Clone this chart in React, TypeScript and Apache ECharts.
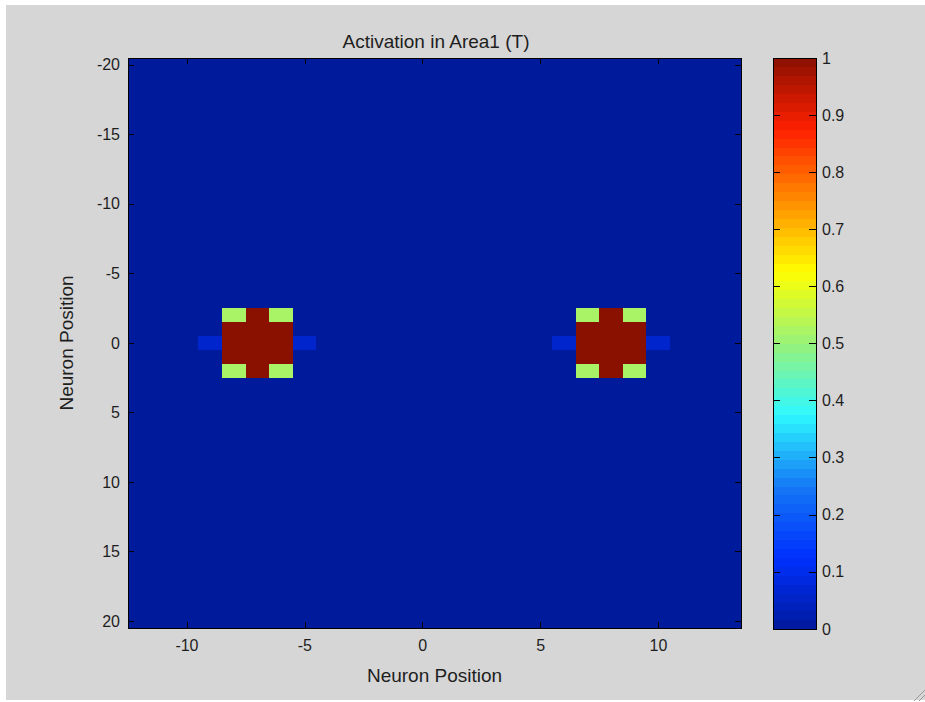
import React, { useEffect, useRef } from "react";
import * as echarts from "echarts";

// Neuron positions (heatmap columns / rows)
const xPositions = [-12, -11, -10, -9, -8, -7, -6, -5, -4, -3, -2, -1, 0, 1, 2, 3, 4, 5, 6, 7, 8, 9, 10, 11, 12, 13];
const yPositions = [-20, -19, -18, -17, -16, -15, -14, -13, -12, -11, -10, -9, -8, -7, -6, -5, -4, -3, -2, -1, 0, 1, 2, 3, 4, 5, 6, 7, 8, 9, 10, 11, 12, 13, 14, 15, 16, 17, 18, 19, 20];

// Non-zero activations: [x, y, activation]
const leftBlob: [number, number, number][] = [
  [-9, 0, 0.06], [-5, 0, 0.06],
  [-8, -2, 0.52], [-7, -2, 1], [-6, -2, 0.52],
  [-8, -1, 1], [-7, -1, 1], [-6, -1, 1],
  [-8, 0, 1], [-7, 0, 1], [-6, 0, 1],
  [-8, 1, 1], [-7, 1, 1], [-6, 1, 1],
  [-8, 2, 0.52], [-7, 2, 1], [-6, 2, 0.52],
];
const rightBlob: [number, number, number][] = [
  [6, 0, 0.06], [10, 0, 0.06],
  [7, -2, 0.52], [8, -2, 1], [9, -2, 0.52],
  [7, -1, 1], [8, -1, 1], [9, -1, 1],
  [7, 0, 1], [8, 0, 1], [9, 0, 1],
  [7, 1, 1], [8, 1, 1], [9, 1, 1],
  [7, 2, 0.52], [8, 2, 1], [9, 2, 0.52],
];
const backgroundActivation = 0;

// Colour bar ticks
const colorbarTicks = [0, 0.1, 0.2, 0.3, 0.4, 0.5, 0.6, 0.7, 0.8, 0.9, 1];
const colormapSteps = 64;

// jet-like colormap, evenly spaced stops 0 .. 1
const jetColors = [
  "#001a9c", "#0030ff", "#1478f5", "#2ef8ff", "#98f27a",
  "#ffff00", "#ff8c00", "#ff2000", "#8a1000",
];

const FONT = "'Liberation Sans', Arial, Helvetica, sans-serif";
const TXT = "#1e1e1e";

export default function App() {
  const ref = useRef<HTMLDivElement>(null);

  useEffect(() => {
    if (!ref.current) return;
    const chart = echarts.init(ref.current, undefined, { renderer: "svg" });

    const lookup = new Map<string, number>();
    [...leftBlob, ...rightBlob].forEach(([x, y, v]) => lookup.set(`${x},${y}`, v));
    const heatData: number[][] = [];
    yPositions.forEach((y, yi) => {
      xPositions.forEach((x, xi) => {
        const v = lookup.get(`${x},${y}`);
        heatData.push([xi, yi, v === undefined ? backgroundActivation : v]);
      });
    });

    const barData: number[][] = [];
    for (let i = 0; i < colormapSteps; i++) {
      barData.push([i / colormapSteps, (i + 1) / colormapSteps, (i + 0.5) / colormapSteps]);
    }

    const every5 = (_i: number, v: string) => Number(v) % 5 === 0;
    const tickStyle = { color: "#000", width: 1 };
    const lineStyle = { color: "#000", width: 1 };

    const catX = (position: "top" | "bottom", showLabel: boolean) => ({
      type: "category",
      gridIndex: 0,
      position,
      z: 10,
      data: xPositions.map(String),
      axisLine: { show: true, onZero: false, lineStyle },
      axisTick: { show: true, inside: true, length: 6, alignWithLabel: true, interval: every5, lineStyle: tickStyle },
      axisLabel: { show: showLabel, interval: every5, color: TXT, fontFamily: FONT, fontSize: 16, margin: 9 },
      splitLine: { show: false },
    });
    const catY = (position: "left" | "right", showLabel: boolean) => ({
      type: "category",
      gridIndex: 0,
      position,
      z: 10,
      inverse: true,
      data: yPositions.map(String),
      axisLine: { show: true, onZero: false, lineStyle },
      axisTick: { show: true, inside: true, length: 6, alignWithLabel: true, interval: every5, lineStyle: tickStyle },
      axisLabel: { show: showLabel, interval: every5, color: TXT, fontFamily: FONT, fontSize: 16, margin: 8 },
      splitLine: { show: false },
    });
    const barY = (position: "left" | "right", showLabel: boolean) => ({
      type: "value",
      gridIndex: 1,
      position,
      z: 10,
      min: 0,
      max: 1,
      interval: 0.1,
      axisLine: { show: true, onZero: false, lineStyle },
      axisTick: { show: true, inside: true, length: 7, lineStyle: tickStyle },
      axisLabel: {
        show: showLabel,
        color: TXT,
        fontFamily: FONT,
        fontSize: 16,
        margin: 6,
        formatter: (v: number) => {
          const t = colorbarTicks.find((c) => Math.abs(c - v) < 1e-6);
          return t === undefined ? "" : String(t);
        },
      },
      splitLine: { show: false },
    });
    const barX = (position: "top" | "bottom") => ({
      type: "value",
      gridIndex: 1,
      position,
      z: 10,
      min: 0,
      max: 1,
      axisLine: { show: true, onZero: false, lineStyle },
      axisTick: { show: false },
      axisLabel: { show: false },
      splitLine: { show: false },
    });

    chart.setOption({
      animation: false,
      backgroundColor: "#ffffff",
      title: {
        text: "Activation in Area1 (T)",
        left: 431,
        top: 27,
        textAlign: "center",
        textStyle: { color: TXT, fontFamily: FONT, fontSize: 19, fontWeight: "normal" },
      },
      graphic: [
        { type: "rect", z: -100, silent: true, shape: { x: 6, y: 5, width: 919, height: 695 }, style: { fill: "#d6d6d6" } },
        { type: "line", z: -90, silent: true, shape: { x1: 914, y1: 701, x2: 925, y2: 690 }, style: { stroke: "#9a9a9a", lineWidth: 1 } },
        { type: "line", z: -90, silent: true, shape: { x1: 919, y1: 701, x2: 925, y2: 695 }, style: { stroke: "#9a9a9a", lineWidth: 1 } },
      ],
      grid: [
        { left: 128, top: 58, width: 613, height: 570, containLabel: false, show: true, backgroundColor: jetColors[0], borderColor: "#000", borderWidth: 1 },
        { left: 773, top: 58, width: 43, height: 571, containLabel: false, show: true, backgroundColor: "transparent", borderColor: "#000", borderWidth: 1 },
      ],
      xAxis: [
        {
          ...catX("bottom", true),
          name: "Neuron Position",
          nameLocation: "middle",
          nameGap: 38,
          nameTextStyle: { color: TXT, fontFamily: FONT, fontSize: 19 },
        },
        catX("top", false),
        barX("bottom"),
        barX("top"),
      ],
      yAxis: [
        {
          ...catY("left", true),
          name: "Neuron Position",
          nameLocation: "middle",
          nameGap: 52,
          nameRotate: 90,
          nameTextStyle: { color: TXT, fontFamily: FONT, fontSize: 19 },
        },
        catY("right", false),
        barY("right", true),
        barY("left", false),
      ],
      visualMap: {
        type: "continuous",
        show: false,
        min: 0,
        max: 1,
        dimension: 2,
        seriesIndex: [0, 1],
        inRange: { color: jetColors },
      },
      series: [
        {
          type: "heatmap",
          xAxisIndex: 0,
          yAxisIndex: 0,
          data: heatData,
          itemStyle: { borderWidth: 0 },
          emphasis: { disabled: true },
        },
        {
          type: "custom",
          xAxisIndex: 2,
          yAxisIndex: 2,
          data: barData,
          encode: { x: 0, y: 1 },
          renderItem: (_params: any, api: any) => {
            const lo = api.value(0);
            const hi = api.value(1);
            const pTop = api.coord([0, hi]);
            const pBot = api.coord([1, lo]);
            return {
              type: "rect",
              shape: { x: pTop[0], y: pTop[1] - 0.3, width: pBot[0] - pTop[0], height: pBot[1] - pTop[1] + 0.6 },
              style: { fill: api.visual("color") },
            };
          },
        },
      ],
    });

    return () => chart.dispose();
  }, []);

  return (
    <>
      <style>{"#root svg path { shape-rendering: crispEdges; }"}</style>
      <div
        ref={ref}
        style={{ position: "fixed", left: 0, top: 0, width: 925, height: 702 }}
      />
    </>
  );
}
